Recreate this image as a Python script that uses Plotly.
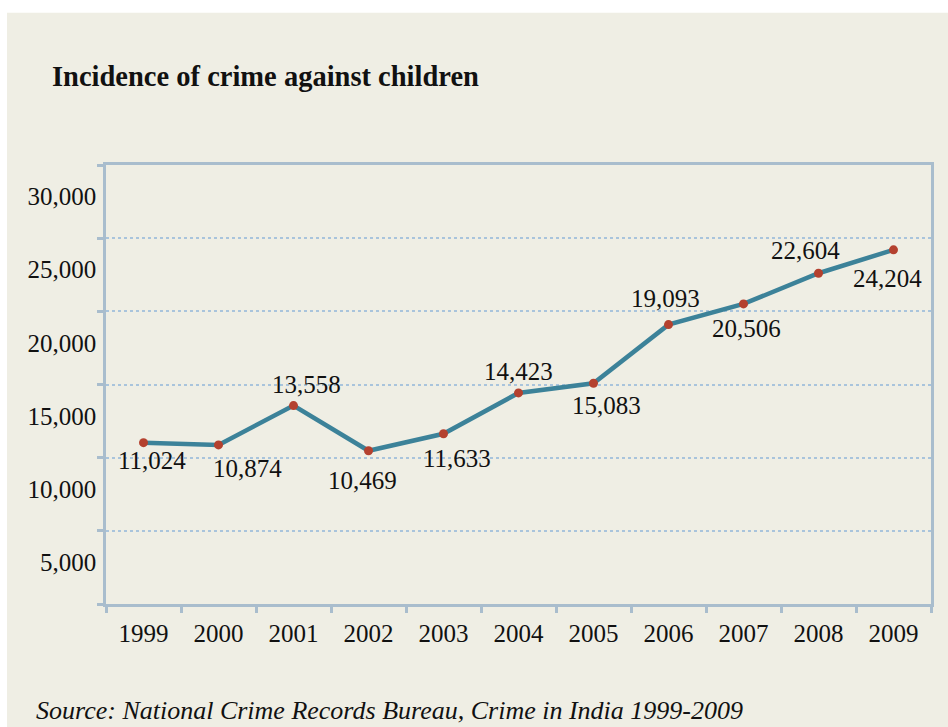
import plotly.graph_objects as go

years = ["1999", "2000", "2001", "2002", "2003", "2004", "2005", "2006", "2007", "2008", "2009"]
crimes = [11024, 10874, 13558, 10469, 11633, 14423, 15083, 19093, 20506, 22604, 24204]
ytick_labels = ["5,000", "10,000", "15,000", "20,000", "25,000", "30,000"]
ytick_vals = [2850, 7850, 12850, 17850, 22850, 27850]
grid_vals = [0, 5000, 10000, 15000, 20000, 25000, 30000]

title = "Incidence of crime against children"
source = "Source: National Crime Records Bureau, Crime in India 1999-2009"

# label placement offsets in pixels (right, down) relative to each point
label_dx = [8, 29, 13, -6, 13, 0, 13, -3, 3, -13, -6]
label_dy = [19, 25, -20, 31, 26, -20, 23, -25, 26, -22, 30]

BG = "#efeee4"
AXIS = "#a9bdcd"
GRID = "#a9c4dc"
FONT = "Liberation Serif"

fig = go.Figure()
fig.add_trace(go.Scatter(
    x=years, y=crimes,
    mode="lines+markers",
    line=dict(color="#3c8299", width=4.5),
    marker=dict(color="#b4412f", size=9),
    cliponaxis=False,
    hoverinfo="skip",
))

# category axis: annotation x uses the category's serial index
for i, (v, dx, dy) in enumerate(zip(crimes, label_dx, label_dy)):
    fig.add_annotation(x=i, y=v, xref="x", yref="y", text=f"{v:,}", showarrow=False,
                       xanchor="center", yanchor="middle",
                       xshift=dx, yshift=-dy + 1,
                       font=dict(family=FONT, size=25, color="#111111"))

W, H = 948, 727
L, R, T, B = 106, 17, 164.5, 122.7
pw = W - L - R
ph = H - T - B

def px_x(p):
    return (p - L) / pw

def px_y(p):
    return (H - B - p) / ph

fig.add_shape(type="rect", xref="paper", yref="paper",
              x0=px_x(7), x1=px_x(960), y0=px_y(740), y1=px_y(12),
              fillcolor=BG, line=dict(width=0), layer="below")

fig.add_annotation(text=f"<b>{title}</b>", xref="paper", yref="paper",
                   x=px_x(50), y=px_y(76), xanchor="left", yanchor="middle",
                   showarrow=False, font=dict(family=FONT, size=28.5, color="#111111"))
fig.add_annotation(text=f"<i>{source}</i>", xref="paper", yref="paper",
                   x=px_x(34), y=px_y(711), xanchor="left", yanchor="middle",
                   showarrow=False, font=dict(family=FONT, size=26, color="#111111"))

fig.update_layout(
    width=W, height=H,
    margin=dict(l=L, r=R, t=T, b=B, pad=0, autoexpand=False),
    paper_bgcolor="white",
    plot_bgcolor="rgba(0,0,0,0)",
    showlegend=False,
    font=dict(family=FONT, size=25, color="#111111"),
)
fig.update_xaxes(
    type="category",
    range=[-0.5, len(years) - 0.5],
    automargin=False,
    tickson="boundaries",
    ticks="outside", ticklen=6, tickwidth=2.5, tickcolor=AXIS,
    showline=True, linecolor=AXIS, linewidth=2.5, mirror=True,
    showgrid=False,
    tickfont=dict(family=FONT, size=25, color="#111111"),
    ticklabelstandoff=5,
)
fig.update_yaxes(
    range=[0, 30000],
    automargin=False,
    tickmode="array", tickvals=ytick_vals, ticktext=ytick_labels,
    ticks="", showgrid=False, zeroline=False,
    showline=True, linecolor=AXIS, linewidth=2.5, mirror=True,
    tickfont=dict(family=FONT, size=25, color="#111111"),
    ticklabelstandoff=2,
    minor=dict(tickmode="array", tickvals=grid_vals, ticks="outside", ticklen=6,
               tickwidth=2.5, tickcolor=AXIS, showgrid=True, gridcolor=GRID,
               gridwidth=1.5, griddash="dot"),
)

fig.write_html("out.html")
